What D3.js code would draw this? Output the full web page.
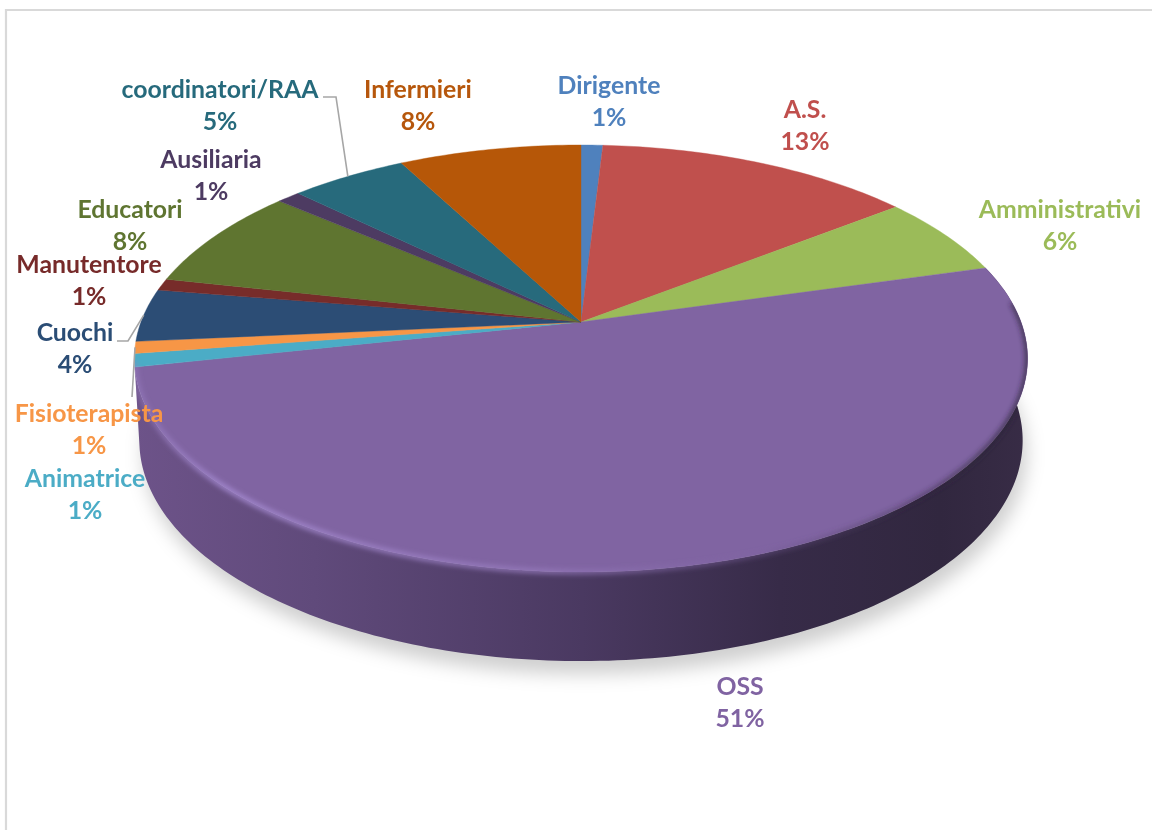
<!DOCTYPE html>
<html>
<head>
<meta charset="utf-8">
<script src="https://cdn.jsdelivr.net/npm/d3@7"></script>
<style>
html, body { margin: 0; padding: 0; background: #fff; overflow: hidden; }
text { font-family: Lato, "Open Sans", sans-serif; font-weight: 700; font-size: 24.8px; text-anchor: middle; }
</style>
</head>
<body>
<script>
// shares, clockwise from 12 o'clock
var categories = ["Dirigente", "A.S.", "Amministrativi", "OSS", "Animatrice", "Fisioterapista",
    "Cuochi", "Manutentore", "Educatori", "Ausiliaria", "coordinatori/RAA", "Infermieri"];
var shares = [0.93, 13.6, 6.1, 51.1, 1, 0.9, 4, 0.9, 7.8, 1, 5, 7.8];
var percentLabels = ["1%", "13%", "6%", "51%", "1%", "1%", "4%", "1%", "8%", "1%", "5%", "8%"];
var colors = ["#4f81bd", "#c0504d", "#9bbb59", "#8064a2", "#4bacc6", "#f79646",
    "#2c4d75", "#772c2a", "#5f7530", "#4d3b62", "#276a7c", "#b65708"];

// label placement: x centre and first baseline, second line is 32px under it
var labelSpots = [[609, 94], [805, 118], [1060, 218], [740, 695], [85, 487], [89, 422],
    [75, 341], [89, 273], [130, 218], [211, 168], [220, 98], [418, 98]];

var W = 1152, H = 830;
var svg = d3.select("body").append("svg").attr("width", W).attr("height", H);
var defs = svg.append("defs");

// frame, only top and left are there
svg.append("path").attr("d", "M6,830V10H1152").attr("fill", "none")
    .attr("stroke", "#d9d9d9").attr("stroke-width", 2.2);

/* perspective of the disc: the apex is not the middle of the ellipse */
var cx = 581, apexY = 322, R = 440, persp = -0.171, spanY = 152.2;
function topPoint(a) {
    var u = Math.sin(a), v = -Math.cos(a), w = 1 + persp * v;
    return [cx + R * u / w, (spanY * v + apexY) / w];
}
// lower rim: the same ring pushed down, a bit narrower and a bit taller
function bottomPoint(a) {
    var p = topPoint(a);
    return [cx + (p[0] - cx) * 0.989, 440 + (p[1] - 358) * 1.033];
}

var arcs = d3.pie().sort(null).value(function(d) { return d; })(shares);
var line = d3.line();

function arcPoints(fn, a0, a1) {
    var n = Math.max(2, Math.ceil((a1 - a0) * 60));
    return d3.range(n + 1).map(function(i) { return fn(a0 + (a1 - a0) * i / n); });
}

/* filters and gradients */
defs.append("filter").attr("id", "blur9").attr("x", "-10%").attr("y", "-10%")
    .attr("width", "120%").attr("height", "120%")
    .append("feGaussianBlur").attr("stdDeviation", 9);
defs.append("filter").attr("id", "blur2").attr("filterUnits", "userSpaceOnUse")
    .attr("x", 0).attr("y", 0).attr("width", W).attr("height", H)
    .append("feGaussianBlur").attr("stdDeviation", 2.4);
defs.append("filter").attr("id", "soft").append("feGaussianBlur").attr("stdDeviation", 0.35);

function hGradient(id, x0, x1, stops) {
    var g = defs.append("linearGradient").attr("id", id).attr("gradientUnits", "userSpaceOnUse")
        .attr("x1", x0).attr("x2", x1).attr("y1", 0).attr("y2", 0);
    stops.forEach(function(s) {
        g.append("stop").attr("offset", s[0]).attr("stop-color", s[1]).attr("stop-opacity", s[2] === undefined ? 1 : s[2]);
    });
}
hGradient("sideFill", 135, 1030, [[0, "#6d5389"], [0.2, "#604a7b"], [0.5, "#4a3961"], [0.72, "#372b48"], [0.9, "#31273f"], [1, "#382c46"]]);
hGradient("rimFill", 135, 1030, [[0, "#9a80c4", 0.5], [0.1, "#a58bd2", 0.9], [0.45, "#957abb", 0.85], [0.7, "#7d62a0", 0.4], [0.86, "#32283f", 0.4], [1, "#2a2136", 0.75]]);

var oss = arcs[3];
var full = 2 * Math.PI;

// soft shadow under the disc
svg.append("path")
    .attr("d", line(arcPoints(bottomPoint, 0, full)) + "Z")
    .attr("transform", "translate(4,13)")
    .attr("fill", "#000").attr("fill-opacity", 0.19)
    .attr("filter", "url(#blur9)");

// side wall, only the OSS slice shows from this angle
var sideTop = arcPoints(topPoint, oss.startAngle, oss.endAngle);
var sideBottom = arcPoints(bottomPoint, oss.startAngle, oss.endAngle).reverse();
var sidePath = line(sideTop.concat(sideBottom)) + "Z";
svg.append("path")
    .attr("d", sidePath)
    .attr("fill", "url(#sideFill)");

// the slices on top
svg.append("g").selectAll("path")
    .data(arcs)
    .enter()
    .append("path")
    .attr("d", function(d) {
        var pts = arcPoints(topPoint, d.startAngle, d.endAngle);
        return "M" + cx + "," + apexY + "L" + line(pts).slice(1) + "Z";
    })
    .attr("fill", function(d, i) { return colors[i]; })
    .attr("stroke", function(d, i) { return colors[i]; })
    .attr("stroke-width", 0.4);

// bevel along the front edge, kept inside the disc so the blur does not spill out
defs.append("clipPath").attr("id", "discClip")
    .selectAll("path")
    .data([line(arcPoints(topPoint, 0, full)) + "Z", sidePath])
    .enter()
    .append("path")
    .attr("d", function(d) { return d; });
svg.append("g").attr("clip-path", "url(#discClip)")
    .append("path")
    .attr("d", line(arcPoints(topPoint, Math.PI * 0.47, Math.PI * 1.44)))
    .attr("fill", "none")
    .attr("stroke", "url(#rimFill)")
    .attr("stroke-width", 5)
    .attr("filter", "url(#blur2)");

/* leader lines, they start from the rim of their slice */
function leader(i, elbow) {
    var d = arcs[i];
    var rim = topPoint((d.startAngle + d.endAngle) / 2);
    svg.append("path")
        .attr("d", line(elbow.concat([rim])))
        .attr("fill", "none")
        .attr("stroke", "#a6a6a6")
        .attr("stroke-width", 1.6);
}
leader(10, [[323, 97], [336, 97]]);
leader(6, [[117, 341], [128, 341]]);
leader(5, [[132, 397]]);

/* labels */
var labels = svg.append("g").attr("filter", "url(#soft)").selectAll("text")
    .data(categories)
    .enter()
    .append("text")
    .attr("fill", function(d, i) { return colors[i]; })
    .attr("x", function(d, i) { return labelSpots[i][0]; })
    .attr("y", function(d, i) { return labelSpots[i][1]; });
labels.append("tspan").text(function(d) { return d; });
labels.append("tspan")
    .attr("x", function(d, i) { return labelSpots[i][0]; })
    .attr("dy", 32)
    .text(function(d, i) { return percentLabels[i]; });
</script>
</body>
</html>
